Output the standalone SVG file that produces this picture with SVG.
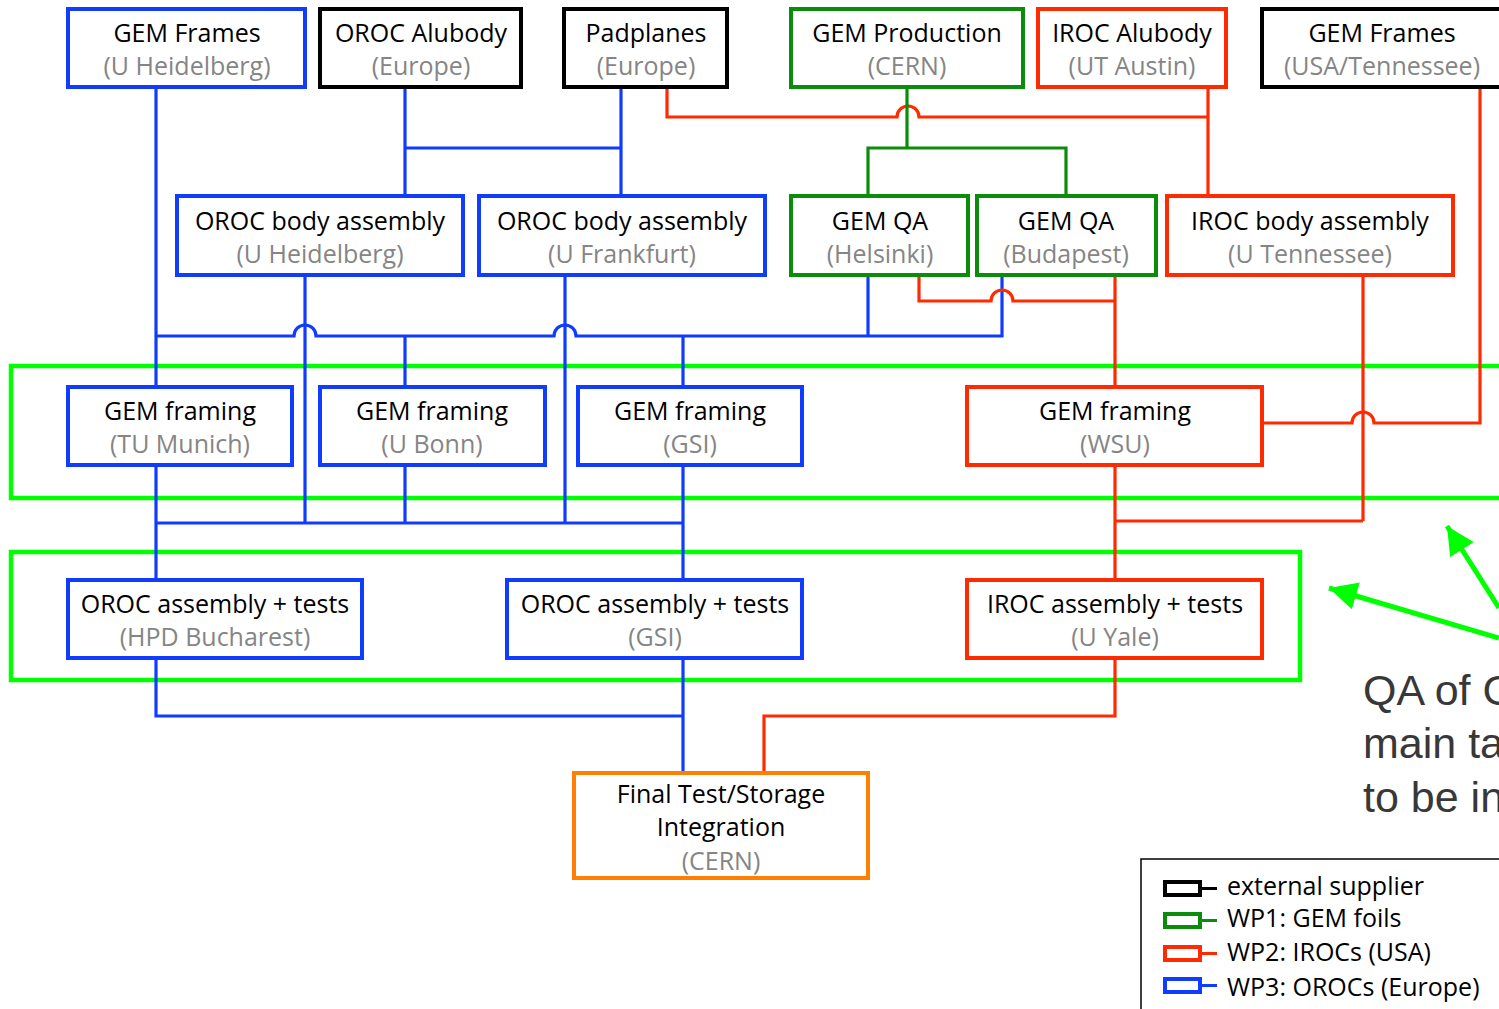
<svg xmlns="http://www.w3.org/2000/svg" width="1499" height="1009" viewBox="0 0 1499 1009">
<defs>
<style>
.box{fill:#fff;stroke-width:4}
.b{stroke:#0f3cff}.r{stroke:#ff2a00}.g{stroke:#0b8c0b}.k{stroke:#000}.o{stroke:#ff7f00}
.t{font-family:"Open Sans","Noto Sans",sans-serif;font-size:25px;text-anchor:middle;fill:#000}
.s{fill:#858585}
.c{fill:none;stroke-width:3.2;stroke-linejoin:miter}
.grp{fill:none;stroke:#00ff00;stroke-width:4.5}
.lg{font-family:"Open Sans","Noto Sans",sans-serif;font-size:25px;fill:#000}
.qa{font-family:"Liberation Sans",Arial,sans-serif;font-size:43px;fill:#383838}
</style>
<marker id="ah" markerUnits="userSpaceOnUse" markerWidth="30" markerHeight="28" refX="28" refY="14" orient="auto">
<path d="M0,0 L28,14 L0,28 Z" fill="#00ff00"/>
</marker>
</defs>
<rect width="1499" height="1009" fill="#fff"/>

<g id="groups">
<rect class="grp" x="11" y="366" width="1520" height="132"/>
<rect class="grp" x="11" y="552" width="1289" height="128"/>
</g>

<g id="connectors">
<path class="c b" d="M156,87 V387"/>
<path class="c b" d="M405,87 V196 M405,148 H621 M621,87 V196"/>
<path class="c b" d="M305,275 V523 M565,275 V523"/>
<path class="c b" d="M156,336 H294 a11 11 0 0 1 22 0 H554 a11 11 0 0 1 22 0 H1002 V275 M868,275 V336"/>
<path class="c b" d="M405,336 V387 M683,336 V387"/>
<path class="c b" d="M156,465 V579 M156,523 H683 M405,465 V523 M683,465 V579"/>
<path class="c b" d="M156,658 V716 H683 M683,658 V773"/>
<path class="c r" d="M667,87 V117 H897 a11 11 0 0 1 22 0 H1208 M1208,87 V196"/>
<path class="c r" d="M919,275 V301 H991 a11 11 0 0 1 22 0 H1115 M1115,275 V387"/>
<path class="c r" d="M1115,465 V579 M1115,521 H1363 M1363,275 V521"/>
<path class="c r" d="M1262,423 H1352 a11 11 0 0 1 22 0 H1480 V89"/>
<path class="c r" d="M1115,658 V716 H764 V773"/>
<path class="c g" d="M907,87 V148 M868,196 V148 H1066 V196"/>
<line x1="1499" y1="638" x2="1329" y2="588" stroke="#00ff00" stroke-width="5" marker-end="url(#ah)"/>
<line x1="1499" y1="608" x2="1447" y2="526" stroke="#00ff00" stroke-width="5" marker-end="url(#ah)"/>
</g>

<g id="n1"><rect class="box b" x="68" y="9" width="237" height="78"/><text class="t" x="187" y="42">GEM Frames</text><text class="t s" x="187" y="75">(U Heidelberg)</text></g>
<g id="n2"><rect class="box k" x="320" y="9" width="201" height="78"/><text class="t" x="421" y="42">OROC Alubody</text><text class="t s" x="421" y="75">(Europe)</text></g>
<g id="n3"><rect class="box k" x="564" y="9" width="163" height="78"/><text class="t" x="646" y="42">Padplanes</text><text class="t s" x="646" y="75">(Europe)</text></g>
<g id="n4"><rect class="box g" x="791" y="9" width="232" height="78"/><text class="t" x="907" y="42">GEM Production</text><text class="t s" x="907" y="75">(CERN)</text></g>
<g id="n5"><rect class="box r" x="1038" y="9" width="188" height="78"/><text class="t" x="1132" y="42">IROC Alubody</text><text class="t s" x="1132" y="75">(UT Austin)</text></g>
<g id="n6"><rect class="box k" x="1262" y="9" width="241" height="78"/><text class="t" x="1382" y="42">GEM Frames</text><text class="t s" x="1382" y="75">(USA/Tennessee)</text></g>

<g id="n7"><rect class="box b" x="177" y="196" width="286" height="79"/><text class="t" x="320" y="230">OROC body assembly</text><text class="t s" x="320" y="263">(U Heidelberg)</text></g>
<g id="n8"><rect class="box b" x="479" y="196" width="286" height="79"/><text class="t" x="622" y="230">OROC body assembly</text><text class="t s" x="622" y="263">(U Frankfurt)</text></g>
<g id="n9"><rect class="box g" x="791" y="196" width="177" height="79"/><text class="t" x="880" y="230">GEM QA</text><text class="t s" x="880" y="263">(Helsinki)</text></g>
<g id="n10"><rect class="box g" x="977" y="196" width="179" height="79"/><text class="t" x="1066" y="230">GEM QA</text><text class="t s" x="1066" y="263">(Budapest)</text></g>
<g id="n11"><rect class="box r" x="1167" y="196" width="286" height="79"/><text class="t" x="1310" y="230">IROC body assembly</text><text class="t s" x="1310" y="263">(U Tennessee)</text></g>

<g id="n12"><rect class="box b" x="68" y="387" width="224" height="78"/><text class="t" x="180" y="420">GEM framing</text><text class="t s" x="180" y="453">(TU Munich)</text></g>
<g id="n13"><rect class="box b" x="320" y="387" width="225" height="78"/><text class="t" x="432" y="420">GEM framing</text><text class="t s" x="432" y="453">(U Bonn)</text></g>
<g id="n14"><rect class="box b" x="578" y="387" width="224" height="78"/><text class="t" x="690" y="420">GEM framing</text><text class="t s" x="690" y="453">(GSI)</text></g>
<g id="n15"><rect class="box r" x="967" y="387" width="295" height="78"/><text class="t" x="1115" y="420">GEM framing</text><text class="t s" x="1115" y="453">(WSU)</text></g>

<g id="n16"><rect class="box b" x="68" y="580" width="294" height="78"/><text class="t" x="215" y="613">OROC assembly + tests</text><text class="t s" x="215" y="646">(HPD Bucharest)</text></g>
<g id="n17"><rect class="box b" x="507" y="580" width="295" height="78"/><text class="t" x="655" y="613">OROC assembly + tests</text><text class="t s" x="655" y="646">(GSI)</text></g>
<g id="n18"><rect class="box r" x="967" y="580" width="295" height="78"/><text class="t" x="1115" y="613">IROC assembly + tests</text><text class="t s" x="1115" y="646">(U Yale)</text></g>

<g id="n19"><rect class="box o" x="574" y="773" width="294" height="105"/><text class="t" x="721" y="803">Final Test/Storage</text><text class="t" x="721" y="836">Integration</text><text class="t s" x="721" y="870">(CERN)</text></g>

<g id="note">
<text class="qa" x="1363" y="705">QA of G</text>
<text class="qa" x="1363" y="758">main ta</text>
<text class="qa" x="1363" y="812">to be in</text>
</g>

<g id="legend">
<rect x="1141" y="859" width="400" height="200" fill="#fff" stroke="#000" stroke-width="1.5"/>
<g stroke-width="4" fill="none">
<rect x="1165" y="882" width="35" height="13" stroke="#000"/><line x1="1200" y1="888.5" x2="1217" y2="888.5" stroke="#000" stroke-width="3"/>
<rect x="1165" y="914" width="35" height="13" stroke="#0b8c0b"/><line x1="1200" y1="920.5" x2="1217" y2="920.5" stroke="#0b8c0b" stroke-width="3"/>
<rect x="1165" y="947" width="35" height="13" stroke="#ff2a00"/><line x1="1200" y1="953.5" x2="1217" y2="953.5" stroke="#ff2a00" stroke-width="3"/>
<rect x="1165" y="979" width="35" height="13" stroke="#0f3cff"/><line x1="1200" y1="985.5" x2="1217" y2="985.5" stroke="#0f3cff" stroke-width="3"/>
</g>
<text class="lg" x="1227" y="895">external supplier</text>
<text class="lg" x="1227" y="927">WP1: GEM foils</text>
<text class="lg" x="1227" y="961">WP2: IROCs (USA)</text>
<text class="lg" x="1227" y="996">WP3: OROCs (Europe)</text>
</g>
</svg>
